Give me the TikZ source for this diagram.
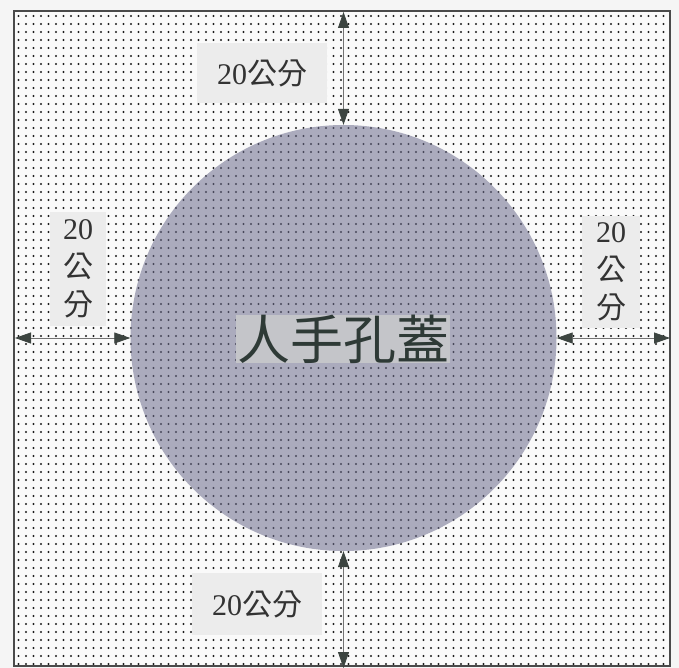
\documentclass[tikz,border=0pt]{standalone}
\usepackage{fontspec}
\setmainfont{Liberation Serif}
\newfontfamily\cjk{Noto Sans CJK TC}
\usetikzlibrary{arrows.meta}
\definecolor{bgcol}{HTML}{FAFAFA}
\definecolor{dotcol}{HTML}{1E1E1E}
\definecolor{circcol}{HTML}{ABABBD}
\definecolor{circdot}{HTML}{48485A}
\definecolor{labbg}{HTML}{ECECEC}
\definecolor{bordcol}{HTML}{4A4A4A}
\definecolor{arrcol}{HTML}{3C4440}
\definecolor{txtcol}{HTML}{2E3A36}
\definecolor{hilite}{HTML}{C4C5C9}
\tikzset{
  lab/.style={fill=labbg, inner sep=0pt, font=\fontsize{30}{33}\selectfont, text=black!80},
  vlab/.style={lab, align=center, font=\fontsize{30}{38}\selectfont},
  dim/.style={draw=black!55, line width=0.8pt, {Triangle[length=16pt,width=11pt,color=arrcol]}-{Triangle[length=16pt,width=11pt,color=arrcol]}},
  dotrow/.style={line width=2.4pt, line cap=round, dash pattern=on 0pt off 7.5pt},
}
\begin{document}
\begin{tikzpicture}[x=1pt,y=-1pt]
\useasboundingbox (0,0) rectangle (679,668);
\fill[white!96!black] (0,0) rectangle (679,668);
% plate
\node[draw=bordcol, line width=2pt, fill=bgcol, minimum width=656pt, minimum height=655pt, inner sep=0pt, anchor=north west] (plate) at (13,10) {};
\begin{scope}
\clip (14,11) rectangle (668,664);
\foreach \j in {0,...,81} {
  \draw[dotcol, dotrow] (18.5,{16+8*\j}) -- (670,{16+8*\j});
}
\end{scope}
% manhole
\node[circle, fill=circcol, minimum size=426pt, inner sep=0pt] (manhole) at (343.5,338) {};
\begin{scope}
\clip (343.5,338) circle (213);
\foreach \j in {13,...,69} {
  \draw[circdot, dotrow, line width=2.2pt] (18.5,{16+8*\j}) -- (670,{16+8*\j});
}
\end{scope}
% labels
\node[lab, minimum width=130pt, minimum height=60pt] (ltop) at (262,73) {20{\cjk 公分}};
\node[lab, minimum width=130pt, minimum height=62pt] (lbot) at (257,604) {20{\cjk 公分}};
\node[vlab, minimum width=56pt, minimum height=113pt] (lleft) at (78,269) {20\\{\cjk 公}\\{\cjk 分}};
\node[vlab, minimum width=58pt, minimum height=111pt] (lright) at (611,272) {20\\{\cjk 公}\\{\cjk 分}};
\node[fill=hilite, inner xsep=1pt, inner ysep=0pt, text=txtcol, font=\cjk\fontsize{53}{55}\selectfont] (title) at (343,339) {人手孔蓋};
% dimension arrows
\draw[dim] (manhole.north |- plate.north) ++(0,2) coordinate (tA) -- (manhole.north);
\draw[dim] (manhole.south) -- ([yshift=-1pt]manhole.south |- plate.south) coordinate (bA);
\draw[dim] ([xshift=2pt]plate.west |- manhole.west) coordinate (lA) -- (manhole.west);
\draw[dim] (manhole.east) -- ([xshift=-1pt]plate.east |- manhole.east) coordinate (rA);
\end{tikzpicture}
\end{document}
